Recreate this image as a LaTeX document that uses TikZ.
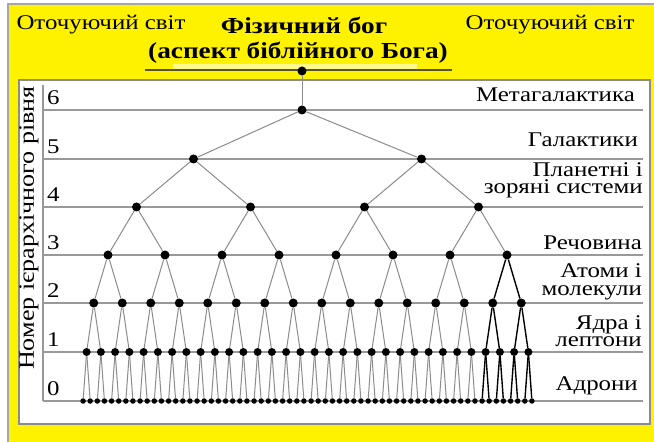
\documentclass[tikz,border=0pt]{standalone}
\usepackage{fontspec}
\setmainfont[FakeStretch=1.19]{Liberation Serif}
\begin{document}
\begin{tikzpicture}[x=1bp,y=-1bp,
  bigdot/.style={circle,fill=black,inner sep=0pt,minimum size=9bp},
  middot/.style={circle,fill=black,inner sep=0pt,minimum size=8bp},
  smalldot/.style={circle,fill=black,inner sep=0pt,minimum size=5.5bp},
  grayedge/.style={draw=black!45,line width=1bp},
  blackedge/.style={draw=black,line width=1.4bp},
  levelline/.style={draw=black!40,line width=1.3bp},
  txt/.style={font=\fontsize{21}{17.5}\selectfont,inner sep=0pt},
  lbl/.style={txt,anchor=east,align=right},
  digit/.style={txt,anchor=west},
  titletxt/.style={font=\fontsize{23}{26}\selectfont\bfseries,inner sep=0pt},
  ]
\useasboundingbox (0,0) rectangle (654,442);
% background
\fill[yellow] (8,4) rectangle (654,442);
\draw[black!35,line width=1.5bp] (8,442) -- (8,4) -- (654,4);
\filldraw[fill=white,draw=black!45,line width=1.2bp] (19,80) rectangle (650,424);
% header texts
\node[txt] (envl) at (101,25) {Оточуючий світ};
\node[txt] (envr) at (550,25) {Оточуючий світ};
\node[titletxt] (title1) at (304,25) {Фізичний бог};
\node[titletxt] (title2) at (298,53) {(аспект біблійного Бога)};
\fill[white!55!yellow] (173,64.5) rectangle (417,69);
\draw[black!50!olive,line width=1.2bp] (145,70) -- (452,70);
% level lines and axis
\foreach \y in {401,352,303,255,207,159,110}
  \draw[levelline] (43,\y) -- (643,\y);
\draw[levelline] (43,85) -- (43,401);
% digits
\foreach \d/\y in {6/98,5/147,4/195,3/243,2/291,1/340,0/389}
  \node[digit] (dg\d) at (47,\y) {\d};
% axis title
\node[txt,font=\fontsize{22}{22}\selectfont,rotate=90] (axis) at (29,228) {Номер ієрархічного рівня};
% right labels
\node[lbl] (l6) at (635,95) {Метагалактика};
\node[lbl] (l5) at (638,140) {Галактики};
\node[lbl] (l4) at (643,180.5) {Планетні і\\зоряні системи};
\node[lbl] (l3) at (642,243) {Речовина};
\node[lbl] (l2) at (642,282) {Атоми і\\молекули};
\node[lbl] (l1) at (642,331) {Ядра і\\лептони};
\node[lbl] (l0) at (638,386) {Адрони};
% tree nodes
\node[bigdot] (top) at (302,71) {};
\node[bigdot] (n6-0) at (302,110) {};
\node[bigdot] (n5-0) at (193.5,159) {};
\node[bigdot] (n5-1) at (421.5,159) {};
\foreach \i in {0,...,3} \node[bigdot] (n4-\i) at ({136.5+114*\i},207) {};
\foreach \i in {0,...,7} \node[bigdot] (n3-\i) at ({108+57*\i},255) {};
\foreach \i in {0,...,15} \node[bigdot] (n2-\i) at ({93.75+28.5*\i},303) {};
\foreach \i in {0,...,31} \node[middot] (n1-\i) at ({86.625+14.25*\i},352) {};
\foreach \i in {0,...,63} \node[smalldot] (n0-\i) at ({83.0625+7.125*\i},401) {};
% edges
\draw[grayedge] (top) -- (n6-0);
\draw[grayedge] (n6-0) -- (n5-0);
\draw[grayedge] (n6-0) -- (n5-1);
\foreach \i in {0,...,3} {\pgfmathtruncatemacro{\p}{\i/2}\draw[grayedge] (n5-\p) -- (n4-\i);}
\foreach \i in {0,...,7} {\pgfmathtruncatemacro{\p}{\i/2}\draw[grayedge] (n4-\p) -- (n3-\i);}
\foreach \i in {0,...,13} {\pgfmathtruncatemacro{\p}{\i/2}\draw[grayedge] (n3-\p) -- (n2-\i);}
\foreach \i in {14,15} {\pgfmathtruncatemacro{\p}{\i/2}\draw[blackedge] (n3-\p) -- (n2-\i);}
\foreach \i in {0,...,27} {\pgfmathtruncatemacro{\p}{\i/2}\draw[grayedge] (n2-\p) -- (n1-\i);}
\foreach \i in {28,...,31} {\pgfmathtruncatemacro{\p}{\i/2}\draw[blackedge] (n2-\p) -- (n1-\i);}
\foreach \i in {0,...,55} {\pgfmathtruncatemacro{\p}{\i/2}\draw[grayedge] (n1-\p) -- (n0-\i);}
\foreach \i in {56,...,63} {\pgfmathtruncatemacro{\p}{\i/2}\draw[blackedge] (n1-\p) -- (n0-\i);}
\end{tikzpicture}
\end{document}
